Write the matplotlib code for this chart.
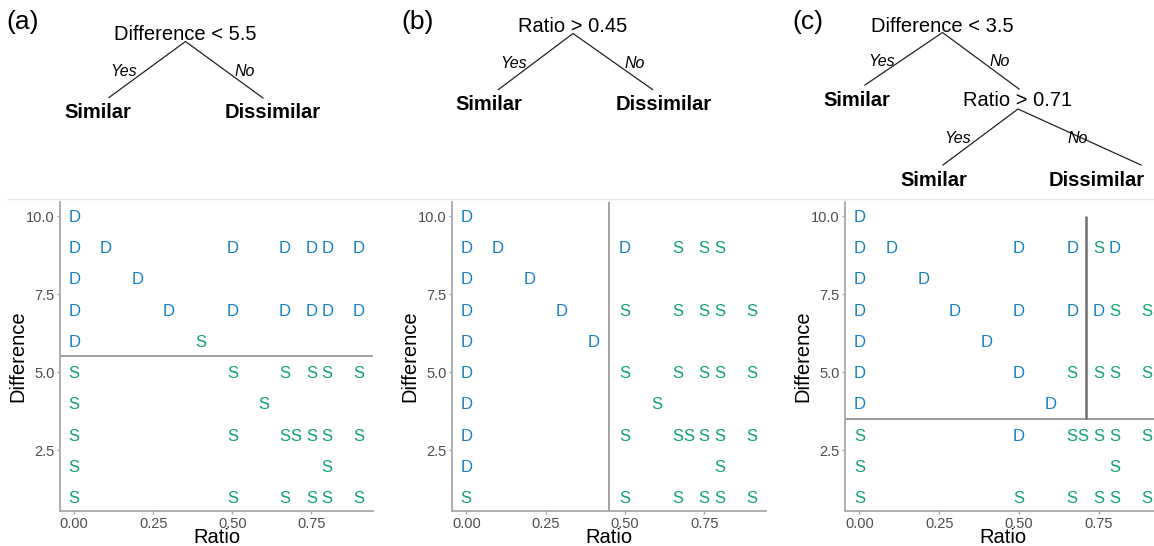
import matplotlib
matplotlib.use("Agg")
import matplotlib.pyplot as plt
import matplotlib.transforms as mtransforms

plt.rcParams['font.family'] = ['Liberation Sans', 'DejaVu Sans']

W, H = 1154, 546
T = 2 / 3

# ---------------- data ----------------
# panel (a)
a_ratio = [0, 0, 0.1, 0.5, T, 0.75, 0.8, 0.9, 0, 0.2, 0, 0.3, 0.5, T, 0.75, 0.8, 0.9,
           0, 0.4, 0, 0.5, T, 0.75, 0.8, 0.9, 0, 0.6, 0, 0.5, T, 0.7, 0.75, 0.8, 0.9,
           0, 0.8, 0, 0.5, T, 0.75, 0.8, 0.9]
a_diff = [10, 9, 9, 9, 9, 9, 9, 9, 8, 8, 7, 7, 7, 7, 7, 7, 7,
          6, 6, 5, 5, 5, 5, 5, 5, 4, 4, 3, 3, 3, 3, 3, 3, 3,
          2, 2, 1, 1, 1, 1, 1, 1]
a_label = list("DDDDDDDD" "DD" "DDDDDDD" "DS" "SSSSSS" "SS" "SSSSSSS" "SS" "SSSSSS")

# panel (b)
b_ratio = [0, 0, 0.1, 0.5, T, 0.75, 0.8, 0, 0.2, 0, 0.3, 0.5, T, 0.75, 0.8, 0.9,
           0, 0.4, 0, 0.5, T, 0.75, 0.8, 0.9, 0, 0.6, 0, 0.5, T, 0.7, 0.75, 0.8, 0.9,
           0, 0.8, 0, 0.5, T, 0.75, 0.8, 0.9]
b_diff = [10, 9, 9, 9, 9, 9, 9, 8, 8, 7, 7, 7, 7, 7, 7, 7,
          6, 6, 5, 5, 5, 5, 5, 5, 4, 4, 3, 3, 3, 3, 3, 3, 3,
          2, 2, 1, 1, 1, 1, 1, 1]
b_label = list("DDDDSSS" "DD" "DDSSSSS" "DD" "DSSSSS" "DS" "DSSSSSS" "DS" "SSSSSS")

# panel (c)
c_ratio = b_ratio
c_diff = b_diff
c_label = list("DDDDDSD" "DD" "DDDDDSS" "DD" "DDSSSS" "DD" "SDSSSSS" "SS" "SSSSSS")

x_ticks = [0.0, 0.25, 0.5, 0.75]
x_ticklabels = ["0.00", "0.25", "0.50", "0.75"]
y_ticks = [2.5, 5.0, 7.5, 10.0]
y_ticklabels = ["2.5", "5.0", "7.5", "10.0"]

COL = {"D": "#1580C3", "S": "#12A178"}
SPLIT = "#8a8a8a"
AXC = "#a8a8a8"

fig = plt.figure(figsize=(W / 100, H / 100), dpi=100)


def px_axes(l, r, t, b):
    return [l / W, 1 - b / H, (r - l) / W, (b - t) / H]


def scatter_panel(rect, ratio, diff, label, xmax):
    ax = fig.add_axes(rect)
    ax.set_xlim(-0.045, xmax)
    ax.set_ylim(0.55, 10.45)
    off = mtransforms.offset_copy(ax.transData, fig=fig, x=0, y=-4.3, units='points')
    for xv, yv, lb in zip(ratio, diff, label):
        ax.text(xv, yv, lb, color=COL[lb], fontsize=12, ha='center', va='baseline',
                transform=off, clip_on=False)
    for s in ['top', 'right']:
        ax.spines[s].set_visible(False)
    for s in ['left', 'bottom']:
        ax.spines[s].set_color(AXC)
        ax.spines[s].set_linewidth(1.3)
    ax.set_xticks(x_ticks)
    ax.set_xticklabels(x_ticklabels)
    ax.set_yticks(y_ticks)
    ax.set_yticklabels(y_ticklabels)
    ax.tick_params(colors=AXC, labelcolor='#4d4d4d', labelsize=10.5, length=2.5, width=1, pad=1.5)
    ax.set_xlabel("Ratio", fontsize=14.5, labelpad=-1.5)
    ax.set_ylabel("Difference", fontsize=14.5, labelpad=-1)
    ax.patch.set_alpha(0)
    return ax


axa = scatter_panel(px_axes(60, 373, 202, 511), a_ratio, a_diff, a_label, 0.945)
axa.axhline(5.5, color=SPLIT, lw=1.1, zorder=0)

axb = scatter_panel(px_axes(452, 766, 202, 511), b_ratio, b_diff, b_label, 0.945)
axb.axvline(0.45, color=SPLIT, lw=1.1, zorder=0)

axc = scatter_panel(px_axes(845, 1161, 202, 511), c_ratio, c_diff, c_label, 0.945)
axc.axhline(3.5, color=SPLIT, lw=1.2, zorder=0)
axc.vlines(0.71, 3.5, 10, color='#707070', lw=1.8, zorder=0)

# ---------------- tree diagrams (pixel coordinates) ----------------
tx = fig.add_axes([0, 0, 1, 1])
tx.set_xlim(0, W)
tx.set_ylim(H, 0)
tx.axis('off')
tx.patch.set_alpha(0)

tx.plot([8, W], [199, 199], color='#e6e6e6', lw=1)

LW = 0.9


def split(cx, cy, lx, ly, rx, ry, title, tb, yes_xy, no_xy):
    tx.text(cx, tb, title, fontsize=14.5, ha='center', va='baseline')
    tx.plot([lx, cx, rx], [ly, cy, ry], color='#222222', lw=LW)
    tx.text(yes_xy[0], yes_xy[1], "Yes", fontsize=11.5, style='italic', ha='center', va='baseline')
    tx.text(no_xy[0], no_xy[1], "No", fontsize=11.5, style='italic', ha='center', va='baseline')


def leaf(x, yb, txt):
    tx.text(x, yb, txt, fontsize=14.5, fontweight='bold', ha='center', va='baseline')


def tag(x, yb, txt):
    tx.text(x, yb, txt, fontsize=19, ha='center', va='baseline')


# (a)
tag(23, 29, "(a)")
split(185.5, 41.5, 109, 97.5, 263, 98, "Difference < 5.5", 40, (124, 76), (245, 76))
leaf(98, 118, "Similar")
leaf(273, 118, "Dissimilar")

# (b)
tag(418, 29, "(b)")
split(573, 33.5, 498.5, 89.5, 652.5, 89.5, "Ratio > 0.45", 31.5, (514, 67.5), (635, 67.5))
leaf(488.5, 110, "Similar")
leaf(663.5, 110, "Dissimilar")

# (c)
tag(808, 29, "(c)")
split(942.5, 32.5, 865, 85, 1019, 89, "Difference < 3.5", 31.5, (882, 66), (1000, 66))
leaf(857, 106, "Similar")
split(1018, 109, 943, 165, 1141, 165, "Ratio > 0.71", 106, (958, 143), (1078, 143))
leaf(934, 186, "Similar")
leaf(1097, 186, "Dissimilar")

fig.savefig("out.png", dpi=100)
